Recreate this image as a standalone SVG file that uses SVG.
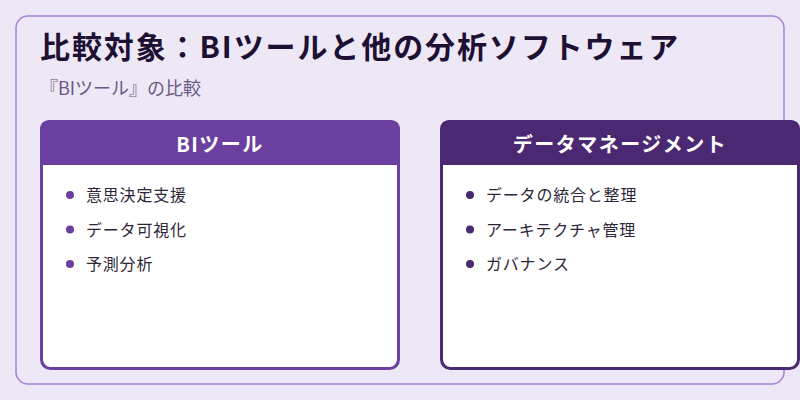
<svg xmlns="http://www.w3.org/2000/svg" width="800" height="400" viewBox="0 0 800 400">
  <style>
    .t { font-family: "Noto Sans CJK JP", "Noto Sans", sans-serif; }
    .title { font-size: 30px; font-weight: 700; fill: #1e1033; letter-spacing: 1.9px; }
    .sub { font-size: 18px; fill: #6b5a86; }
    .hdr { font-size: 20px; font-weight: 700; fill: #ffffff; text-anchor: middle; letter-spacing: 1.5px; }
    .item { font-size: 16px; fill: #2e2638; letter-spacing: 0.8px; }
    .card { fill: #ffffff; stroke-width: 3; }
  </style>
  <rect x="0" y="0" width="800" height="400" fill="#ede7f6"/>
  <rect x="16" y="16" width="768" height="368" rx="12" fill="none" stroke="#a383d0" stroke-width="1.5"/>
  <text class="t title" x="40" y="58">比較対象：BIツールと他の分析ソフトウェア</text>
  <text class="t sub" x="40" y="95">『BIツール』の比較</text>

  <g id="node-bi">
    <rect class="card" x="41.5" y="121.5" width="357" height="247" rx="9" stroke="#6b3fa0"/>
    <path d="M40,165 V130 Q40,120 50,120 H390 Q400,120 400,130 V165 Z" fill="#6b3fa0"/>
    <text class="t hdr" x="220" y="152">BIツール</text>
    <circle cx="70" cy="195" r="4" fill="#6b3fa0"/>
    <text class="t item" x="86" y="201">意思決定支援</text>
    <circle cx="70" cy="229.5" r="4" fill="#6b3fa0"/>
    <text class="t item" x="86" y="235.5">データ可視化</text>
    <circle cx="70" cy="264" r="4" fill="#6b3fa0"/>
    <text class="t item" x="86" y="270">予測分析</text>
  </g>

  <g id="node-dm">
    <rect class="card" x="441.5" y="121.5" width="357" height="247" rx="9" stroke="#4a2872"/>
    <path d="M440,165 V130 Q440,120 450,120 H790 Q800,120 800,130 V165 Z" fill="#4a2872"/>
    <text class="t hdr" x="620" y="152">データマネージメント</text>
    <circle cx="470" cy="195" r="4" fill="#4a2872"/>
    <text class="t item" x="486" y="201">データの統合と整理</text>
    <circle cx="470" cy="229.5" r="4" fill="#4a2872"/>
    <text class="t item" x="486" y="235.5">アーキテクチャ管理</text>
    <circle cx="470" cy="264" r="4" fill="#4a2872"/>
    <text class="t item" x="486" y="270">ガバナンス</text>
  </g>

  <g id="connectors"></g>
</svg>
